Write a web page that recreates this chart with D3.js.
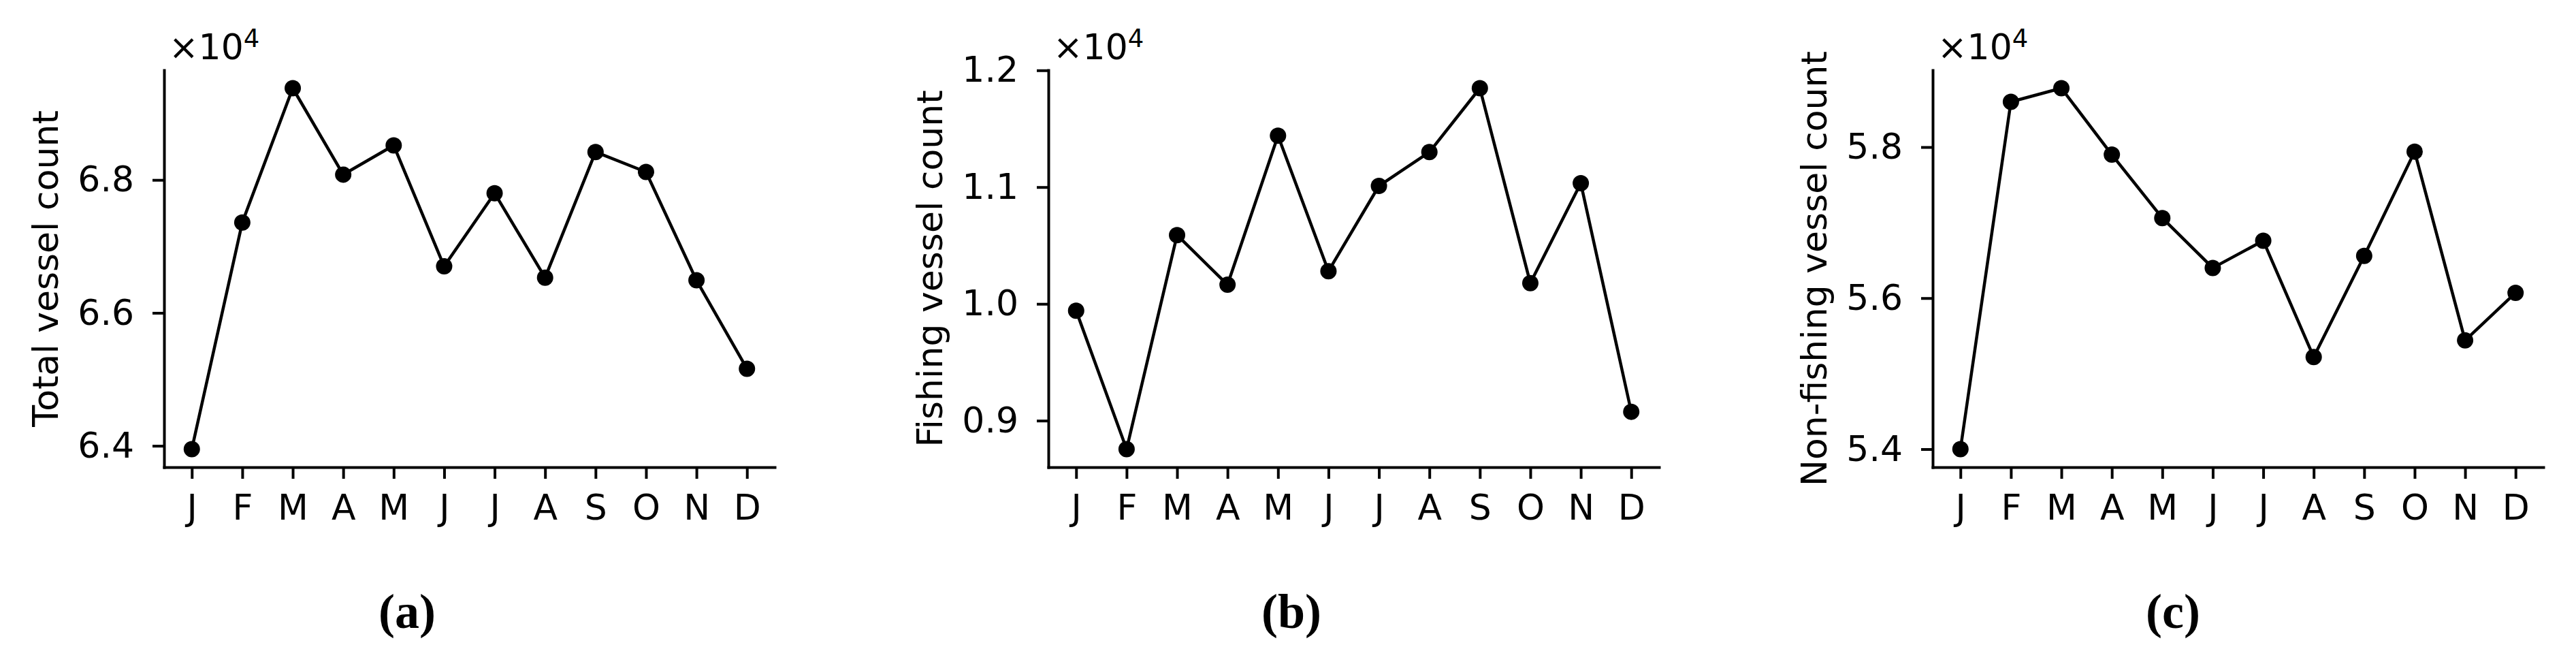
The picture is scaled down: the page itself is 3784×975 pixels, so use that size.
<!DOCTYPE html>
<html>
<head>
<meta charset="utf-8">
<script src="https://cdn.jsdelivr.net/npm/d3@7"></script>
<style>
  body { margin: 0; background: #fff; }
  text { font-family: "DejaVu Sans", sans-serif; fill: #000; }
</style>
</head>
<body>
<div id="chart"></div>
<script>
// monthly vessel counts, in units of 10^4
var months = ["J", "F", "M", "A", "M", "J", "J", "A", "S", "O", "N", "D"];
var totalCounts = [6.395, 6.736, 6.938, 6.808, 6.852, 6.670, 6.780, 6.653, 6.842, 6.812, 6.649, 6.516];
var fishingCounts = [0.9942, 0.8756, 1.0589, 1.0164, 1.1440, 1.0280, 1.1010, 1.1300, 1.1847, 1.0178, 1.1033, 0.9076];
var nonFishingCounts = [5.400, 5.860, 5.878, 5.790, 5.706, 5.640, 5.676, 5.522, 5.656, 5.794, 5.544, 5.607];

var totalTicks = [6.4, 6.6, 6.8];
var fishingTicks = [0.9, 1.0, 1.1, 1.2];
var nonFishingTicks = [5.4, 5.6, 5.8];

var yLabels = ["Total vessel count", "Fishing vessel count", "Non-fishing vessel count"];
var captions = ["(a)", "(b)", "(c)"];

var panels = [
    { values: totalCounts, ticks: totalTicks, label: yLabels[0], caption: captions[0], left: 241, capX: 598 },
    { values: fishingCounts, ticks: fishingTicks, label: yLabels[1], caption: captions[1], left: 1540, capX: 1897 },
    { values: nonFishingCounts, ticks: nonFishingTicks, label: yLabels[2], caption: captions[2], left: 2839, capX: 3192 }
];

var W = 3784, H = 975;
var plotTop = 103, plotHeight = 583, plotWidth = 897;
var fontSize = 52;

var svg = d3.select("#chart")
    .append("svg")
    .attr("width", W)
    .attr("height", H)
    .style("background", "#fff");

panels.forEach(function (p) {
    var g = svg.append("g")
        .attr("transform", "translate(" + p.left + "," + plotTop + ")");

    // matplotlib style 5% margins
    var ext = d3.extent(p.values);
    var pad = (ext[1] - ext[0]) * 0.05;
    var y = d3.scaleLinear()
        .domain([ext[0] - pad, ext[1] + pad])
        .range([plotHeight, 0]);
    var x = d3.scaleLinear()
        .domain([-0.55, months.length - 1 + 0.55])
        .range([0, plotWidth]);

    var xAxis = g.append("g")
        .attr("transform", "translate(0," + plotHeight + ")")
        .call(d3.axisBottom(x)
            .tickValues(d3.range(months.length))
            .tickFormat(function (i) { return months[i]; })
            .tickSize(17)
            .tickSizeOuter(0)
            .tickPadding(23));

    var yAxis = g.append("g")
        .call(d3.axisLeft(y)
            .tickValues(p.ticks)
            .tickFormat(d3.format(".1f"))
            .tickSize(17)
            .tickSizeOuter(0)
            .tickPadding(27));

    [xAxis, yAxis].forEach(function (a) {
        a.select(".domain").attr("stroke", "#000").attr("stroke-width", 4).attr("stroke-linecap", "square");
        a.selectAll(".tick line").attr("stroke", "#000").attr("stroke-width", 4);
        a.selectAll(".tick text")
            .style("font-family", "DejaVu Sans")
            .style("font-size", fontSize + "px")
            .attr("fill", "#000");
    });

    // offset text x10^4
    var off = g.append("text")
        .attr("x", 7)
        .attr("y", 87 - plotTop)
        .style("font-size", fontSize + "px");
    off.append("tspan").text("\u00d710");
    off.append("tspan")
        .attr("dy", -18)
        .style("font-size", "37px")
        .text("4");

    // y label
    g.append("text")
        .attr("transform", "translate(-156," + (plotHeight / 2) + ") rotate(-90)")
        .attr("text-anchor", "middle")
        .style("font-size", fontSize + "px")
        .text(p.label);

    var line = d3.line()
        .x(function (d, i) { return x(i); })
        .y(function (d) { return y(d); });

    g.append("path")
        .datum(p.values)
        .attr("fill", "none")
        .attr("stroke", "#000")
        .attr("stroke-width", 4.5)
        .attr("stroke-linejoin", "round")
        .attr("d", line);

    g.selectAll("circle")
        .data(p.values)
        .enter()
        .append("circle")
        .attr("cx", function (d, i) { return x(i); })
        .attr("cy", function (d) { return y(d); })
        .attr("r", 12)
        .attr("fill", "#000");

    // sub-figure caption
    svg.append("text")
        .attr("x", p.capX)
        .attr("y", 922)
        .attr("text-anchor", "middle")
        .style("font-family", "'Liberation Serif', serif")
        .style("font-weight", "bold")
        .style("font-size", "72px")
        .text(p.caption);
});
</script>
</body>
</html>
